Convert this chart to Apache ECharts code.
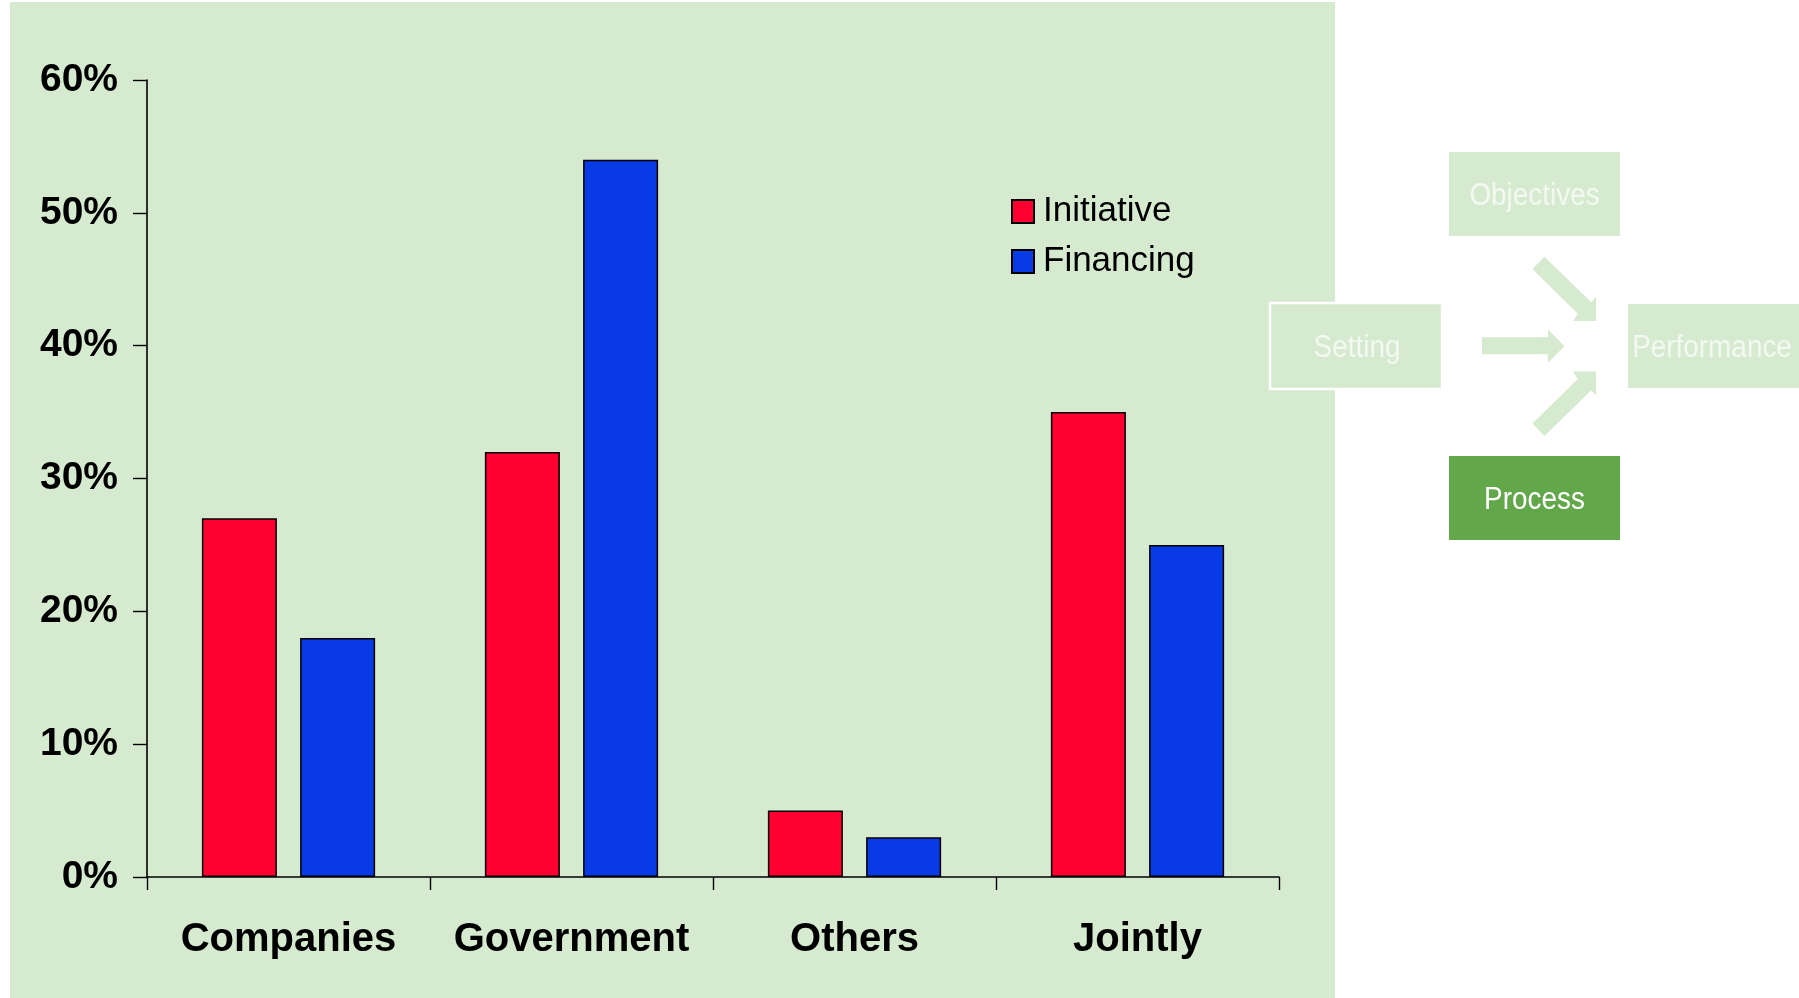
<!DOCTYPE html>
<html>
<head>
<meta charset="utf-8">
<script src="https://cdn.jsdelivr.net/npm/echarts@6/dist/echarts.min.js"></script>
<style>
html,body{margin:0;padding:0;background:#fff;}
#chart{width:1799px;height:998px;}
</style>
</head>
<body>
<div id="chart"></div>
<script>
// ---- data ----
const categories = ['Companies', 'Government', 'Others', 'Jointly'];
const initiative = [27, 32, 5, 35];
const financing = [18, 54, 3, 25];
const seriesNames = ['Initiative', 'Financing'];
const yTicks = [0, 10, 20, 30, 40, 50, 60];
const diagramLabels = ['Objectives', 'Setting', 'Performance', 'Process'];

// ---- styles ----
const PANEL = '#D6EAD0';
const PROCESS = '#62A84B';
const LIGHT_TEXT = '#F3F9F1';
const RED = '#FF0030';
const BLUE = '#083AE6';
const ARIAL = "'Liberation Sans', Arial, sans-serif";

const chart = echarts.init(document.getElementById('chart'), null, {renderer: 'canvas'});

function box(x, y, w, h, fill, stroke) {
  return {
    type: 'rect',
    z: 50,
    silent: true,
    shape: {x: x, y: y, width: w, height: h},
    style: {fill: fill, stroke: stroke || null, lineWidth: stroke ? 2.5 : 0}
  };
}
function label(cx, cy, text, color) {
  return {
    type: 'text',
    z: 60,
    silent: true,
    x: cx, y: cy,
    scaleX: 0.9,
    style: {
      text: text, fill: color, fontSize: 31, fontFamily: ARIAL,
      align: 'center', verticalAlign: 'middle'
    }
  };
}

const arrowTop = [[1544.4,256.7],[1591.3,302.3],[1596.1,297],[1596.1,321],[1573,321],[1577.8,313.7],[1532.4,269]];
const arrowBottom = arrowTop.map(p => [p[0], 692.6 - p[1]]);
const arrowMid = [[1482,337.3],[1548,337.3],[1548,329.3],[1564.4,346.3],[1548,362.7],[1548,354.3],[1482,354.3]];

const option = {
  backgroundColor: '#ffffff',
  animation: false,
  textStyle: {fontFamily: ARIAL},
  grid: {left: 147, right: 520, top: 80, bottom: 121, containLabel: false},
  legend: {
    orient: 'vertical',
    left: 1006,
    top: 189,
    itemWidth: 22,
    itemHeight: 23,
    itemGap: 15,
    icon: 'rect',
    data: seriesNames,
    textStyle: {fontSize: 35, color: '#000', fontFamily: ARIAL, padding: [0, 0, 0, 4]}
  },
  xAxis: {
    type: 'category',
    data: categories,
    axisLine: {lineStyle: {color: '#000', width: 1.6}},
    axisTick: {show: true, interval: 0, length: 13, lineStyle: {color: '#000', width: 1.4}},
    axisLabel: {interval: 0, fontSize: 40, fontWeight: 'bold', color: '#000', margin: 43, fontFamily: ARIAL}
  },
  yAxis: {
    type: 'value',
    min: yTicks[0],
    max: yTicks[yTicks.length - 1],
    interval: yTicks[1] - yTicks[0],
    splitLine: {show: false},
    axisLine: {show: true, lineStyle: {color: '#000', width: 1.6}},
    axisTick: {show: true, length: 14, lineStyle: {color: '#000', width: 1.4}},
    axisLabel: {fontSize: 39, fontWeight: 'bold', color: '#000', margin: 29, formatter: '{value}%', fontFamily: ARIAL}
  },
  series: [
    {
      name: seriesNames[0], type: 'bar', data: initiative,
      barWidth: 75, barGap: '31%',
      itemStyle: {color: RED, borderColor: '#000', borderWidth: 1.5}
    },
    {
      name: seriesNames[1], type: 'bar', data: financing,
      barWidth: 75,
      itemStyle: {color: BLUE, borderColor: '#000', borderWidth: 1.5}
    }
  ],
  graphic: {
    elements: [
      {type: 'rect', z: -10, silent: true, shape: {x: 10, y: 2, width: 1325, height: 996}, style: {fill: PANEL}},
      box(1449, 152, 171, 84, PANEL),
      box(1270, 303, 172, 86, PANEL, '#ffffff'),
      box(1628, 304, 171, 84, PANEL),
      box(1449, 456, 171, 84, PROCESS),
      {type: 'polygon', z: 50, silent: true, shape: {points: arrowTop}, style: {fill: PANEL}},
      {type: 'polygon', z: 50, silent: true, shape: {points: arrowMid}, style: {fill: PANEL}},
      {type: 'polygon', z: 50, silent: true, shape: {points: arrowBottom}, style: {fill: PANEL}},
      label(1534.5, 196, diagramLabels[0], LIGHT_TEXT),
      label(1357, 348, diagramLabels[1], LIGHT_TEXT),
      label(1712, 348, diagramLabels[2], LIGHT_TEXT),
      label(1534.5, 500, diagramLabels[3], '#ffffff')
    ]
  }
};
chart.setOption(option);
</script>
</body>
</html>
